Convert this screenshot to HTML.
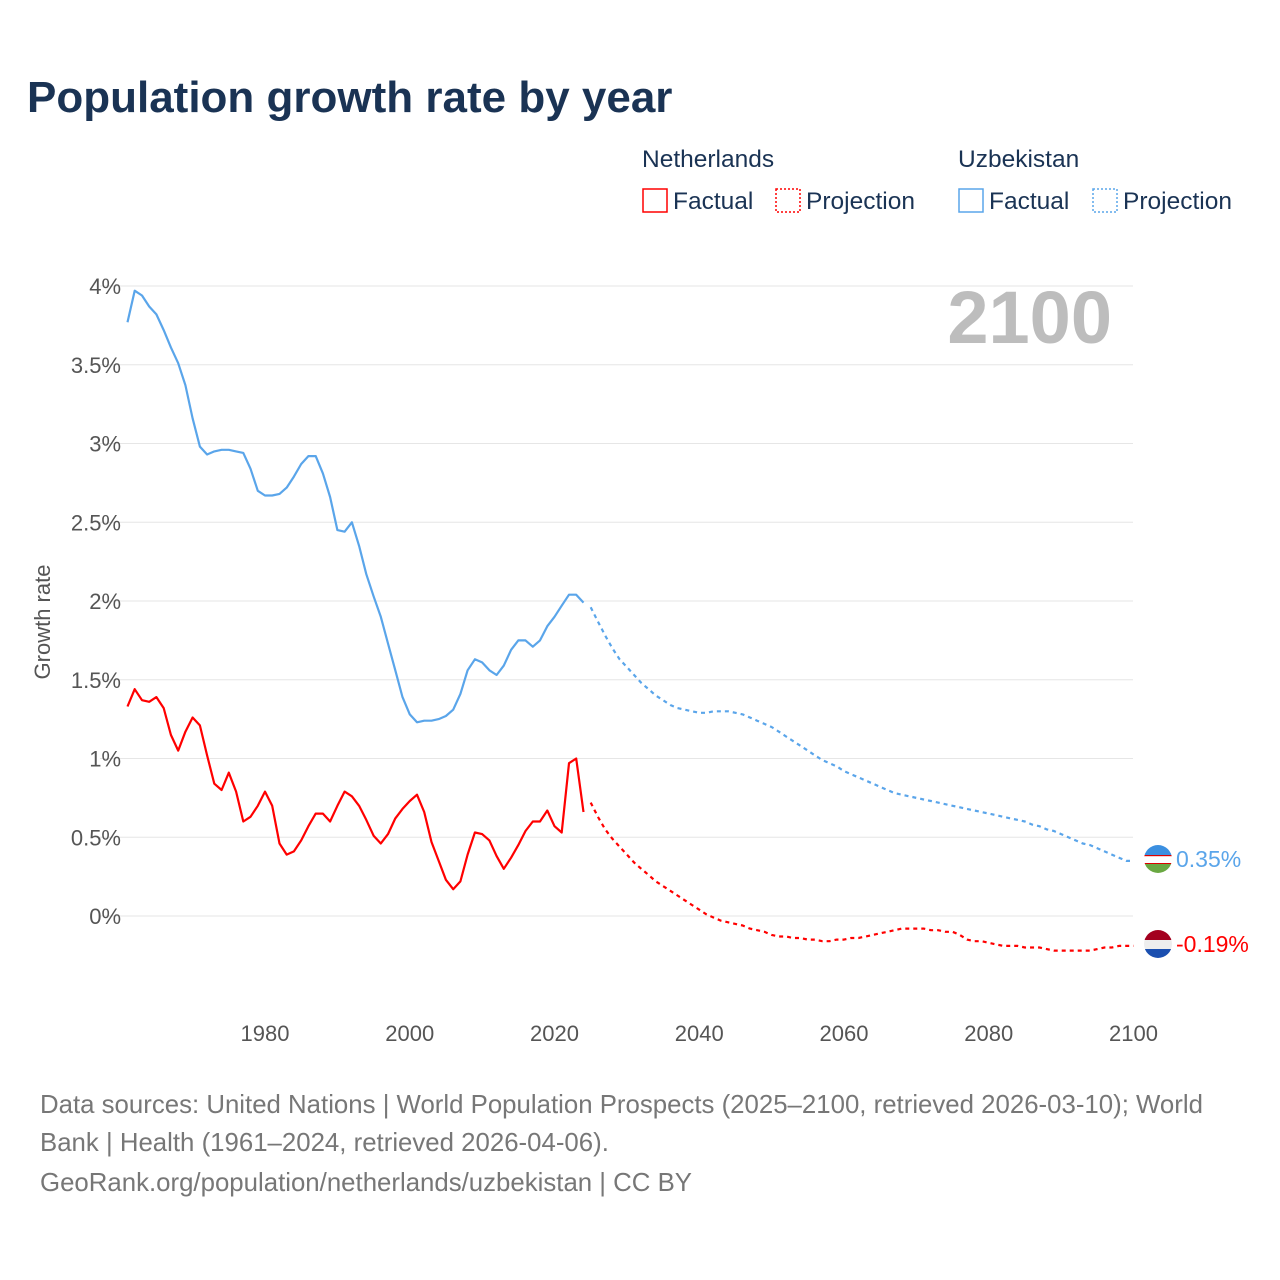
<!DOCTYPE html>
<html><head><meta charset="utf-8"><style>
body{margin:0;background:#fff;font-family:"Liberation Sans",sans-serif;}
svg{display:block}
</style></head><body>
<svg width="1280" height="1280" viewBox="0 0 1280 1280" xmlns="http://www.w3.org/2000/svg" font-family="Liberation Sans, sans-serif">
<text x="27" y="112" font-size="44" font-weight="bold" fill="#1a3354">Population growth rate by year</text>
<g font-size="24.5" fill="#1a3354">
<text x="642" y="167">Netherlands</text>
<rect x="643" y="189" width="24" height="23" fill="none" stroke="#f00" stroke-width="1.5"/>
<text x="673" y="209">Factual</text>
<rect x="776" y="189" width="24" height="23" fill="none" stroke="#f00" stroke-width="1.5" stroke-dasharray="2,2"/>
<text x="806" y="209">Projection</text>
<text x="958" y="167">Uzbekistan</text>
<rect x="959" y="189" width="24" height="23" fill="none" stroke="#5aa5ea" stroke-width="1.5"/>
<text x="989" y="209">Factual</text>
<rect x="1093" y="189" width="24" height="23" fill="none" stroke="#5aa5ea" stroke-width="1.5" stroke-dasharray="2,2"/>
<text x="1123" y="209">Projection</text>
</g>
<text x="1112" y="343" text-anchor="end" font-size="74" font-weight="bold" fill="#bdbdbd">2100</text>
<text transform="translate(50,622) rotate(-90)" text-anchor="middle" font-size="22" fill="#555">Growth rate</text>
<g id="grid"></g><g id="xt"></g><g id="plot"></g>
<g>
<clipPath id="c1"><circle cx="1158" cy="859" r="14"/></clipPath>
<g clip-path="url(#c1)">
<rect x="1144" y="845" width="28" height="10" fill="#3b8fe0"/><rect x="1144" y="855" width="28" height="9" fill="#fff"/>
<rect x="1144" y="855" width="28" height="1.2" fill="#d00"/><rect x="1144" y="863" width="28" height="1.2" fill="#d00"/>
<rect x="1144" y="864" width="28" height="9" fill="#6aa842"/></g>
<text x="1176" y="867" font-size="23" fill="#5aa5ea">0.35%</text>
<clipPath id="c2"><circle cx="1158" cy="944" r="14"/></clipPath>
<g clip-path="url(#c2)">
<rect x="1144" y="930" width="28" height="10" fill="#a3001f"/><rect x="1144" y="940" width="28" height="9" fill="#eee"/><rect x="1144" y="949" width="28" height="9" fill="#1a4fb0"/></g>
<text x="1176" y="952" font-size="23" fill="#f00">-0.19%</text>
</g>
<g font-size="25.8" fill="#777">
<text x="40" y="1113">Data sources: United Nations | World Population Prospects (2025–2100, retrieved 2026-03-10); World</text>
<text x="40" y="1151">Bank | Health (1961–2024, retrieved 2026-04-06).</text>
<text x="40" y="1191">GeoRank.org/population/netherlands/uzbekistan | CC BY</text>
</g>
</svg>
<script>
const yTicks=[0,0.5,1,1.5,2,2.5,3,3.5,4];
const yTickLabels=["0%","0.5%","1%","1.5%","2%","2.5%","3%","3.5%","4%"];
const xTicks=[1980,2000,2020,2040,2060,2080,2100];
const factualStart=1961;
const projStart=2025;
const uzFactual=[3.77,3.97,3.94,3.87,3.82,3.72,3.61,3.51,3.37,3.16,2.98,2.93,2.95,2.96,2.96,2.95,2.94,2.84,2.70,2.67,2.67,2.68,2.72,2.79,2.87,2.92,2.92,2.81,2.66,2.45,2.44,2.50,2.35,2.17,2.03,1.90,1.73,1.56,1.39,1.28,1.23,1.24,1.24,1.25,1.27,1.31,1.41,1.56,1.63,1.61,1.56,1.53,1.59,1.69,1.75,1.75,1.71,1.75,1.84,1.90,1.97,2.04,2.04,1.99];
const uzProjection=[1.96,1.87,1.78,1.70,1.63,1.58,1.53,1.48,1.44,1.40,1.37,1.34,1.32,1.31,1.30,1.29,1.29,1.30,1.30,1.30,1.29,1.28,1.26,1.24,1.22,1.20,1.17,1.14,1.11,1.08,1.05,1.02,0.99,0.97,0.95,0.92,0.90,0.88,0.86,0.84,0.82,0.80,0.78,0.77,0.76,0.75,0.74,0.73,0.72,0.71,0.70,0.69,0.68,0.67,0.66,0.65,0.64,0.63,0.62,0.61,0.60,0.58,0.57,0.55,0.54,0.52,0.50,0.48,0.46,0.45,0.43,0.41,0.39,0.37,0.35,0.35];
const nlFactual=[1.33,1.44,1.37,1.36,1.39,1.32,1.15,1.05,1.17,1.26,1.21,1.02,0.84,0.80,0.91,0.79,0.60,0.63,0.70,0.79,0.70,0.46,0.39,0.41,0.48,0.57,0.65,0.65,0.60,0.70,0.79,0.76,0.70,0.61,0.51,0.46,0.52,0.62,0.68,0.73,0.77,0.66,0.47,0.35,0.23,0.17,0.22,0.39,0.53,0.52,0.48,0.38,0.30,0.37,0.45,0.54,0.60,0.60,0.67,0.57,0.53,0.97,1.00,0.66];
const nlProjection=[0.72,0.63,0.55,0.49,0.44,0.39,0.34,0.30,0.26,0.22,0.19,0.16,0.13,0.10,0.07,0.04,0.01,-0.01,-0.03,-0.04,-0.05,-0.06,-0.08,-0.09,-0.10,-0.12,-0.13,-0.13,-0.14,-0.14,-0.15,-0.15,-0.16,-0.16,-0.15,-0.15,-0.14,-0.14,-0.13,-0.12,-0.11,-0.10,-0.09,-0.08,-0.08,-0.08,-0.08,-0.09,-0.09,-0.10,-0.10,-0.12,-0.15,-0.16,-0.16,-0.17,-0.18,-0.19,-0.19,-0.19,-0.20,-0.20,-0.20,-0.21,-0.22,-0.22,-0.22,-0.22,-0.22,-0.22,-0.21,-0.20,-0.20,-0.19,-0.19,-0.19];
const NS="http://www.w3.org/2000/svg";
function X(yr){return 265+(yr-1980)*7.2375;}
function Y(v){return 916-v*157.5;}
function mk(tag,attrs,parent){const e=document.createElementNS(NS,tag);for(const k in attrs)e.setAttribute(k,attrs[k]);parent.appendChild(e);return e;}
const grid=document.getElementById('grid');
yTicks.forEach((t,i)=>{
 const l=mk('line',{x1:100,x2:1133,y1:Y(t),y2:Y(t),stroke:'#e6e6e6','stroke-width':1},grid);
 
 
 const tx=mk('text',{x:121,y:Y(t)+8,'text-anchor':'end','font-size':22,fill:'#555'},grid);
 tx.textContent=yTickLabels[i];
 
 
});
const xt=document.getElementById('xt');
xTicks.forEach(t=>{
 const tx=mk('text',{x:X(t),y:1041,'text-anchor':'middle','font-size':22,fill:'#555'},xt);
 tx.textContent=t;
 
 
});
const plot=document.getElementById('plot');
function line(vals,start,color,dash,name){
 const d=vals.map((v,i)=>(i?'L':'M')+X(start+i).toFixed(1)+','+Y(v).toFixed(1)).join('');
 const p=mk('path',{d:d,fill:'none',stroke:color,'stroke-width':2.2,'stroke-linejoin':'round'},plot);
 if(dash)p.setAttribute('stroke-dasharray','4,4');
 
 
}
line(uzFactual,factualStart,'#5aa5ea',false,'uzbekistan-factual-line');
line(uzProjection,projStart,'#5aa5ea',true,'uzbekistan-projection-line');
line(nlFactual,factualStart,'#ff0000',false,'netherlands-factual-line');
line(nlProjection,projStart,'#ff0000',true,'netherlands-projection-line');
</script>
</body></html>
